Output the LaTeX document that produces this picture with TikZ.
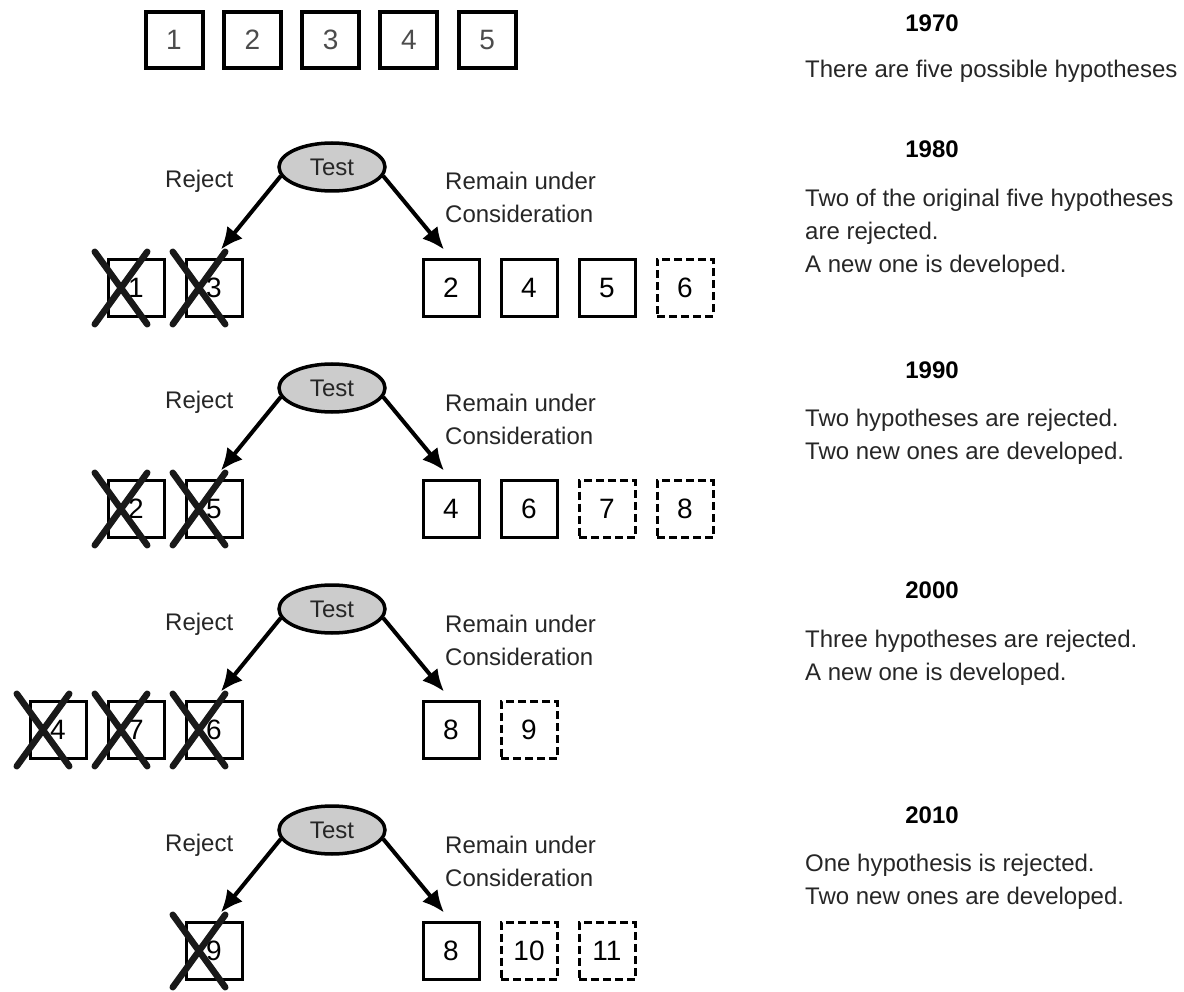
\documentclass[tikz,border=0pt]{standalone}
\usepackage{fontspec}
\setmainfont{Liberation Sans}
\usetikzlibrary{shapes.geometric,shapes.misc,arrows.meta}

\begin{document}
\begin{tikzpicture}[x=1pt, y=-1pt,
    every node/.style={inner sep=0pt, text=black!85, font=\fontsize{24}{33}\selectfont},
    hyp-s/.style={draw=black, line width=3pt, minimum width=56pt, minimum height=57pt, text=black, font=\fontsize{28}{28}\selectfont},
    hyp-d/.style={hyp-s, dash pattern=on 8pt off 4pt},
    first/.style={hyp-s, line width=4pt, minimum width=57pt, minimum height=56pt, text=black!70},
    test/.style={ellipse, draw=black, line width=3.5pt, fill=black!20, minimum width=106pt, minimum height=48pt},
    xmark/.style={cross out, draw=black!90, line width=6.5pt, line cap=round, minimum width=46pt, minimum height=66pt},
    arr/.style={-{Latex[length=22pt,width=20pt]}, line width=4pt, shorten >=11pt},
    year/.style={font=\fontsize{24}{24}\selectfont\bfseries, text=black, anchor=base},
    note/.style={align=left, anchor=base west}]
    \useasboundingbox (0,0) rectangle (1184,992);

    % the five hypotheses of 1970
    \foreach \n in {1,...,5}
        \node[first] (h-\n) at (174+78.3*\n-78.3, 40) {\n};

    % one row for each test: y of the test, rejected (from the right), kept/new
    % (a note is placed at the baseline of its last line)
    \foreach \y/\rej/\keep [count=\r] in {
        167/{3,1}/{2/s,4/s,5/s,6/d},
        388/{5,2}/{4/s,6/s,7/d,8/d},
        609/{6,7,4}/{8/s,9/d},
        830/{9}/{8/s,10/d,11/d}}{
        \node[test] (test-\r) at (332,\y) {Test};
        \node[anchor=base west] (lrej-\r) at (165,\y+21) {Reject};
        \node[note] (lrem-\r) at (445,\y+56) {Remain under\\Consideration};
        \foreach \n [count=\k from 0] in \rej {
            \node[hyp-s] (rej-\r-\k) at (214-78*\k, \y+121) {\n};
            \node[xmark] (x-\r-\k) at ([xshift=-15pt]rej-\r-\k.center) {};
        }
        % the dashed ones are new
        \foreach \n/\t [count=\k from 0] in \keep
            \node[hyp-\t] (keep-\r-\k) at (451+78*\k, \y+121) {\n};
        \draw[arr] (test-\r.190) -- (rej-\r-0.north);
        \draw[arr] (test-\r.350) -- (keep-\r-0.north);
    }

    \node[year] (y1970) at (932,32) {1970};
    \node[note] (n1970) at (805,78) {There are five possible hypotheses};
    \node[year] (y1980) at (932,158) {1980};
    \node[note] (n1980) at (805,273) {Two of the original five hypotheses\\are rejected.\\A new one is developed.};
    \node[year] (y1990) at (932,378) {1990};
    \node[note] (n1990) at (805,459) {Two hypotheses are rejected.\\Two new ones are developed.};
    \node[year] (y2000) at (932,598) {2000};
    \node[note] (n2000) at (805,680) {Three hypotheses are rejected.\\A new one is developed.};
    \node[year] (y2010) at (932,823) {2010};
    \node[note] (n2010) at (805,904) {One hypothesis is rejected.\\Two new ones are developed.};
\end{tikzpicture}
\end{document}
